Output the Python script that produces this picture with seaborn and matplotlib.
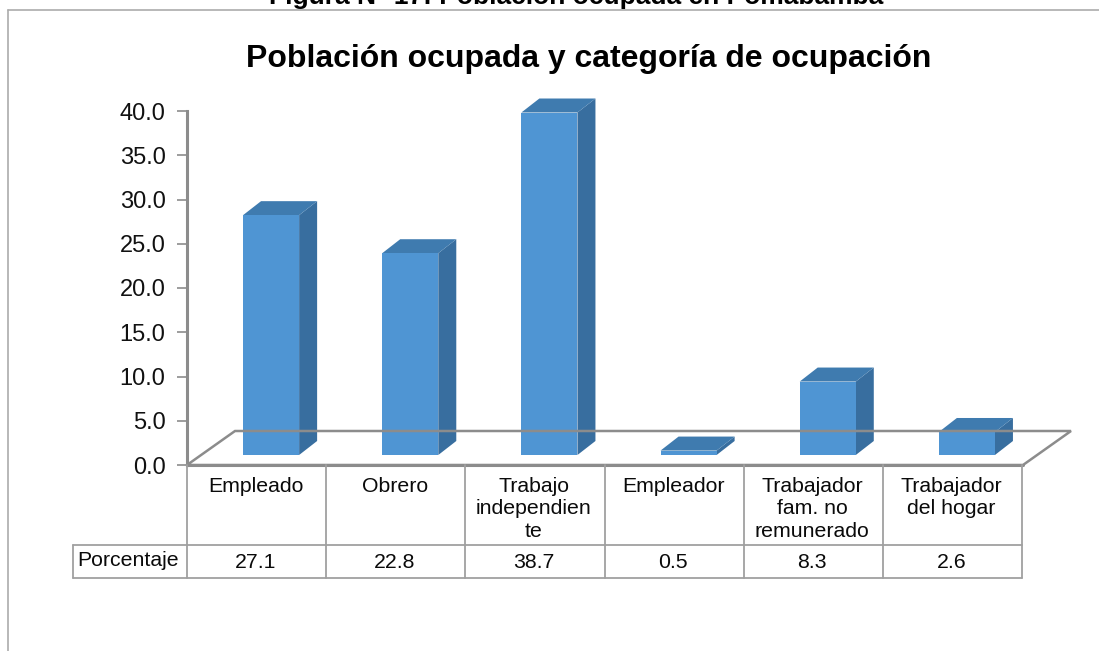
import matplotlib
matplotlib.use("Agg")
import matplotlib.pyplot as plt
from matplotlib.patches import Polygon
from matplotlib.lines import Line2D
import pandas as pd
import seaborn as sns

categories = ["Empleado", "Obrero", "Trabajo\nindependien\nte", "Empleador",
              "Trabajador\nfam. no\nremunerado", "Trabajador\ndel hogar"]
values = [27.1, 22.8, 38.7, 0.5, 8.3, 2.6]
value_labels = ["27.1", "22.8", "38.7", "0.5", "8.3", "2.6"]
row_name = "Porcentaje"
y_ticks = [0, 5, 10, 15, 20, 25, 30, 35, 40]
chart_title = "Población ocupada y categoría de ocupación"
page_title = "Figura N° 17: Población ocupada en Pomabamba"

W, H = 1099, 651
FRONT, SIDE, TOP = "#4F95D3", "#386E9F", "#3F7BAF"
GREY = "#8C8C8C"
FONT = "Liberation Sans"

sns.set_theme(style="white", rc={"font.family": FONT})
fig = plt.figure(figsize=(W / 100, H / 100), dpi=100, facecolor="white")

def pane(x0, x1, y_top, y_bottom):
    return fig.add_axes([x0 / W, 1 - y_bottom / H, (x1 - x0) / W, (y_bottom - y_top) / H])

# axis pane: value 0 at the front edge of the floor
ax = pane(187, 1022, 111, 465)
ax.set_xlim(-0.5, 5.5)
ax.set_ylim(0, 40)
ax.set_xticks([])
ax.set_yticks(y_ticks, [f"{t:.1f}" for t in y_ticks], fontsize=17, color="#111111")
ax.tick_params(axis="y", left=True, length=7, width=1.2, color=GREY, pad=8.5)
for s in ["top", "right", "bottom"]:
    ax.spines[s].set_visible(False)
ax.spines["left"].set_color(GREY)
ax.spines["left"].set_linewidth(2.2)
ax.set_facecolor("none")

# floor parallelogram
floor = [(187, 465), (235, 431), (1071, 431), (1023, 465), (187, 465)]
fig.add_artist(Line2D([p[0] / W for p in floor], [1 - p[1] / H for p in floor],
                      color=GREY, lw=1.8, solid_joinstyle="miter", zorder=1))

# bar pane: shifted onto the floor
bx = pane(187 + 14.5, 1022 + 14.5, 111 - 10, 465 - 10)
df = pd.DataFrame({"categoria": categories, "valor": values})
sns.barplot(data=df, x="categoria", y="valor", ax=bx, color=FRONT, saturation=1,
            width=56 / 139, order=categories, zorder=3, edgecolor="none", linewidth=0)
bx.set_xlim(-0.5, 5.5)
bx.set_ylim(0, 40)
bx.axis("off")
bx.set_facecolor("none")
bx.patch.set_visible(False)

dx, dy = 18 / (835 / 6), 14 / (354 / 40)
for bar in bx.patches[:len(values)]:
    x0, w, h = bar.get_x(), bar.get_width(), bar.get_height()
    x1 = x0 + w
    bx.add_patch(Polygon([(x1, 0), (x1 + dx, dy), (x1 + dx, h + dy), (x1, h)],
                         fc=SIDE, ec="none", zorder=2, clip_on=False))
    bx.add_patch(Polygon([(x0, h), (x0 + dx, h + dy), (x1 + dx, h + dy), (x1, h)],
                         fc=TOP, ec="none", zorder=2, clip_on=False))

# data table
edges = [187 + i * (835 / 6) for i in range(7)]
def hline(x0, x1, y, **k):
    fig.add_artist(Line2D([x0 / W, x1 / W], [1 - y / H] * 2, color=k.get("c", "#A0A0A0"), lw=k.get("lw", 1.3)))
def vline(x, y0, y1, **k):
    fig.add_artist(Line2D([x / W] * 2, [1 - y0 / H, 1 - y1 / H], color=k.get("c", "#A0A0A0"), lw=k.get("lw", 1.3)))

hline(187, 1023, 465, c=GREY, lw=2.2)
hline(73, 1022, 545)
hline(73, 1022, 578)
vline(73, 545, 578)
for x in edges:
    vline(x, 465, 578)

def txt(x, y, s, **k):
    fig.text(x / W, 1 - y / H, s, family=FONT, color=k.pop("color", "#0A0A0A"), **k)

for i, (c, v) in enumerate(zip(categories, value_labels)):
    cx = (edges[i] + edges[i + 1]) / 2 - 1
    txt(cx, 477, c, ha="center", va="top", fontsize=15.3, linespacing=1.22)
    txt(cx, 562, v, ha="center", va="center", fontsize=15.3)
txt(128, 561, row_name, ha="center", va="center", fontsize=15.3)

# titles and chart frame
txt(589, 67, chart_title, ha="center", va="baseline", fontsize=23, fontweight="bold", color="black")
txt(576, 4, page_title, ha="center", va="baseline", fontsize=19, fontweight="bold", color="black")
hline(8, W, 10, c="#ABABAB", lw=1.2)
vline(8, 10, H, c="#ABABAB", lw=1.2)

fig.savefig("out.png", dpi=100, facecolor="white")
